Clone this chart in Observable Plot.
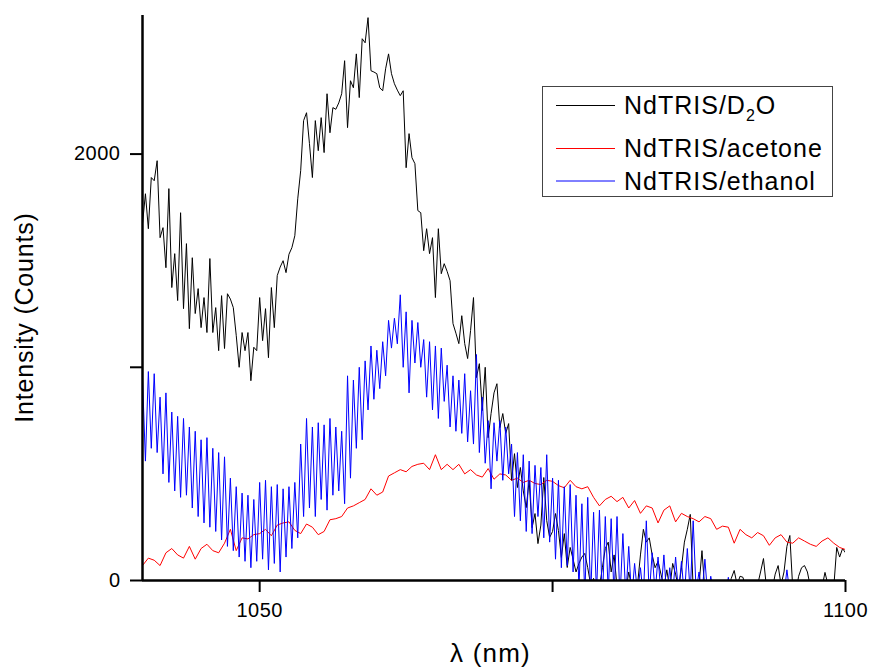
<!DOCTYPE html>
<html>
<head>
<meta charset="utf-8">
<script src="https://cdn.jsdelivr.net/npm/d3@7"></script>
<script src="https://cdn.jsdelivr.net/npm/@observablehq/plot@0.6"></script>
<style>
  html, body { margin: 0; padding: 0; background: #fff; }
  #chart { width: 869px; height: 670px; }
  #chart svg g[aria-label="x-axis tick label"] text,
  #chart svg g[aria-label="y-axis tick label"] text { letter-spacing: 0.5px; }
</style>
</head>
<body>
<div id="chart"></div>
<script>
// ---- data ----
const wavelengthStart = 1040;
const wavelengthEnd = 1100;

// NdTRIS/D2O, one row per nm (samples every 0.25 nm)
const d2oStep = 0.25;
const d2o = [
  1673,1814,1650,1890,  1875,1969,1608,1655,  1467,1838,1374,1533,  1313,1725,1275,1580,
  1181,1514,1252,1369,  1186,1327,1163,1510,  1163,1280,1078,1336,  1088,1345,1320,1280,
  1150,1000,1163,1078,  1163,937,1094,1078,   1327,1125,1275,1045,  1374,1186,1430,1470,
  1500,1444,1530,1561,  1617,1790,1922,2157,  2194,2049,1890,2157,  2016,2171,2007,2283,
  2100,2218,2210,2240,  2283,2438,2124,2344,  2311,2470,2265,2541,  2522,2640,2391,2385,
  2377,2311,2297,2400,  2470,2377,2330,2300,  2274,2297,1936,2096,  1983,1955,1735,1725,
  1547,1650,1533,1608,  1327,1650,1439,1486,  1450,1406,1205,1160,  1111,1242,1111,1041,
  1172,1327,952,1017,   797,1000,670,783,     880,923,717,783,      690,736,469,595,
  436,530,420,342,      469,248,314,173,      260,483,281,202,      230,314,234,108,
  220,61,155,100,       40,80,110,127,        60,-20,10,-40,        -30,60,150,180,
  40,120,-30,-60,       -40,-50,40,-30,       -60,-20,120,240,      180,200,120,60,
  90,30,-30,50,         -40,80,30,-40,        60,180,240,310,       -40,-60,-20,140,
  -50,-80,-60,-40,      -70,-50,-60,-30,      -60,10,47,-20,        20,15,-40,-70,
  -50,-60,-20,40,       103,-30,-60,-40,      30,70,-20,40,         160,211,-40,-60,
  20,60,70,40,          -30,-60,-40,-70,      -30,38,-20,-60,       -30,155,110,150,
  130
];

// NdTRIS/acetone (samples every 0.5 nm)
const acetoneStep = 0.5;
const acetone = [
  70,105, 95,70, 130,150, 120,105, 160,100,
  150,170, 140,130, 175,240, 140,200, 195,215,
  220,240, 210,260, 270,275, 235,220, 265,250,
  215,230, 285,290, 300,340, 350,365, 380,430,
  400,415, 490,505, 520,510, 535,545, 550,520,
  590,520, 545,520, 545,500, 520,495, 485,525,
  475,500, 495,470, 480,460, 470,455, 450,470,
  465,445, 435,470, 440,430, 440,390, 350,380,
  395,370, 390,340, 375,315, 350,340, 270,330,
  350,275, 315,300, 290,275, 300,290, 240,255,
  250,175, 240,215, 200,225, 210,165, 200,215,
  180,175, 200,185, 170,160, 185,200, 175,155,
  145
];

// NdTRIS/ethanol, one row per nm (samples every 0.25 nm)
const ethanolStep = 0.25;
const ethanol = [
  950,560,980,620,   970,600,860,500,   880,460,790,420,   770,390,760,400,   720,340,700,300,
  660,270,670,250,   620,230,600,190,   580,160,480,140,   440,110,410,90,    400,60,380,90,
  460,100,470,50,    440,80,450,40,     430,110,440,150,   460,200,640,300,   760,340,720,300,
  740,380,730,330,   760,400,720,420,   700,360,960,480,   940,620,1000,660,  1030,800,1100,850,
  1080,900,1120,960, 1220,1090,1230,1110, 1340,1000,1260,880, 1220,1020,1210,1000, 1130,860,1120,800,
  1100,760,1090,840, 1010,720,960,700,  940,690,970,650,   890,640,1060,600,  860,550,750,430,
  740,560,750,470,   720,500,640,300,   600,280,590,230,   560,220,540,300,   530,200,590,180,
  480,100,470,60,    440,70,450,40,     400,-40,360,-80,   390,-80,320,-60,   330,-100,300,-60,
  290,-80,300,-90,   220,-80,160,-90,   80,-60,60,-80,     280,-70,130,-60,   110,-60,120,-80,
  60,-70,110,-60,    90,-80,150,-60,    280,-50,40,-70,    100,-80,20,-60,    -30,-80,-20,-70,
  15,-60,-30,-80,    -20,-70,-40,-80,   -30,-70,-40,-60,   -20,-80,-30,-70,   -40,-60,-20,-70,
  50,-60,-30,-80,    -40,-70,-30,-60,   -40,-80,-30,-70,   -40,-60,-30,-80,   -20,-70,-40,-60,
  -30
];

const seriesNames = ["NdTRIS/D2O", "NdTRIS/acetone", "NdTRIS/ethanol"];
const seriesColors = ["#000000", "#ff0000", "#0000ff"];

const xTicks = [1050, 1075, 1100];
const xTickLabels = ["1050", "", "1100"];
const yTicks = [0, 1000, 2000];
const yTickLabels = ["0", "", "2000"];
const yMax = 2650;

const xTitle = "λ (nm)";
const yTitle = "Intensity (Counts)";

// ---- build tables ----
function toRows(values, step, name) {
  return values.map((v, i) => ({ wl: wavelengthStart + i * step, counts: v, name }));
}
const seriesData = [
  toRows(d2o, d2oStep, seriesNames[0]),
  toRows(acetone, acetoneStep, seriesNames[1]),
  toRows(ethanol, ethanolStep, seriesNames[2])
];

const font = "'Liberation Sans', Arial, sans-serif";

const plot = Plot.plot({
  width: 869,
  height: 670,
  marginLeft: 142,
  marginTop: 15,
  marginRight: 24,
  marginBottom: 90,
  style: { fontFamily: font, fontSize: "20px", background: "#fff", color: "#000" },
  x: { domain: [wavelengthStart, wavelengthEnd] },
  y: { domain: [0, yMax] },
  marks: [
    ...seriesData.map((rows, k) =>
      Plot.line(rows, { x: "wl", y: "counts", stroke: seriesColors[k], strokeWidth: 1, clip: true })
    ),
    Plot.axisX({
      ticks: xTicks,
      tickFormat: (d) => xTickLabels[xTicks.indexOf(d)],
      tickSize: 12,
      tickPadding: 10,
      strokeWidth: 2,
      fontSize: 20,
      label: null
    }),
    Plot.axisY({
      ticks: yTicks,
      tickFormat: (d) => yTickLabels[yTicks.indexOf(d)],
      tickSize: 12,
      tickPadding: 10,
      strokeWidth: 2,
      fontSize: 20,
      label: null
    }),
    Plot.ruleX([wavelengthStart], { strokeWidth: 2.5 }),
    Plot.ruleY([0], { strokeWidth: 2.5 })
  ]
});

document.getElementById("chart").appendChild(plot);

// ---- titles & legend ----
const svg = d3.select(plot);
const xs = plot.scale("x");
const ys = plot.scale("y");
const x0 = xs.apply(wavelengthStart), x1 = xs.apply(wavelengthEnd);
const y0 = ys.apply(0), y1 = ys.apply(yMax);

svg.append("text")
  .attr("x", (x0 + x1) / 2 - 3)
  .attr("y", y0 + 82)
  .attr("text-anchor", "middle")
  .attr("font-family", font)
  .attr("font-size", 26)
  .attr("letter-spacing", 1.2)
  .attr("fill", "#000")
  .text(xTitle);

svg.append("text")
  .attr("transform", `translate(33, ${(y0 + y1) / 2 + 20}) rotate(-90)`)
  .attr("text-anchor", "middle")
  .attr("font-family", font)
  .attr("font-size", 25)
  .attr("letter-spacing", 0.8)
  .attr("fill", "#000")
  .text(yTitle);

const lg = svg.append("g")
  .attr("font-family", font)
  .attr("font-size", 25)
  .attr("letter-spacing", 1)
  .attr("text-anchor", "start");
lg.append("rect")
  .attr("x", 542.5).attr("y", 86.5).attr("width", 290).attr("height", 110)
  .attr("fill", "#fff").attr("stroke", "#444").attr("stroke-width", 1);
const rowsY = [105.5, 148.5, 181];
const textY = [114, 157, 190];
seriesNames.forEach((name, k) => {
  lg.append("line")
    .attr("x1", 556).attr("x2", 615).attr("y1", rowsY[k]).attr("y2", rowsY[k])
    .attr("stroke", seriesColors[k]).attr("stroke-width", 1);
  const t = lg.append("text").attr("x", 624).attr("y", textY[k]).attr("fill", "#000");
  if (name.endsWith("D2O")) {
    t.append("tspan").text("NdTRIS/D");
    t.append("tspan").attr("font-size", 16).attr("dy", 7).text("2");
    t.append("tspan").attr("dy", -7).text("O");
  } else {
    t.text(name);
  }
});
</script>
</body>
</html>
